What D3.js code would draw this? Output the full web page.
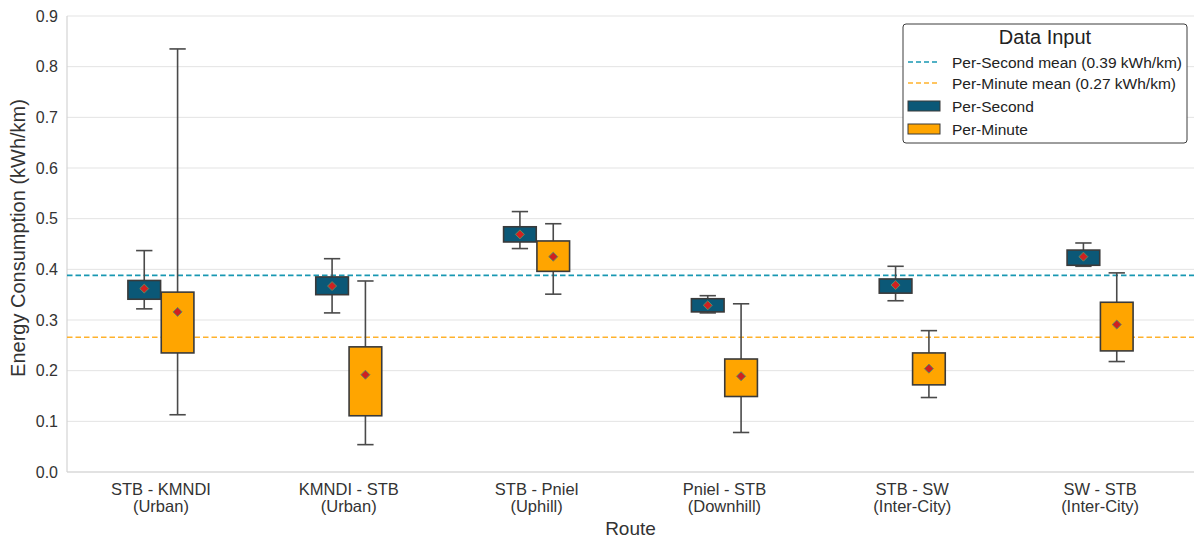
<!DOCTYPE html>
<html>
<head>
<meta charset="utf-8">
<script src="https://cdn.jsdelivr.net/npm/d3@7"></script>
<style>
  html, body { margin: 0; padding: 0; background: #fff; }
  svg { display: block; font-family: "Liberation Sans", Arial, sans-serif; }
</style>
</head>
<body>
<svg id="chart" width="1194" height="539"></svg>
<script>
// Routes (two-line tick labels) and data-input series
const routeNames = ["STB - KMNDI", "KMNDI - STB", "STB - Pniel", "Pniel - STB", "STB - SW", "SW - STB"];
const routeTypes = ["(Urban)", "(Urban)", "(Uphill)", "(Downhill)", "(Inter-City)", "(Inter-City)"];
const seriesNames = ["Per-Second", "Per-Minute"];
const seriesColors = ["#0b5877", "#ffa500"];
const meanLineColors = ["#1898b2", "#ffb22c"];

// Box statistics per route, kWh/km: [lower whisker, Q1, Q3, upper whisker]
const perSecondBox = [
  [0.322, 0.341, 0.378, 0.437],
  [0.314, 0.350, 0.385, 0.421],
  [0.441, 0.454, 0.484, 0.514],
  [0.314, 0.316, 0.342, 0.348],
  [0.338, 0.353, 0.381, 0.406],
  [0.406, 0.408, 0.438, 0.452]
];
const perMinuteBox = [
  [0.113, 0.235, 0.355, 0.835],
  [0.054, 0.111, 0.247, 0.377],
  [0.351, 0.396, 0.456, 0.490],
  [0.078, 0.149, 0.223, 0.332],
  [0.147, 0.172, 0.235, 0.279],
  [0.218, 0.239, 0.335, 0.393]
];
// Route means (diamond markers)
const perSecondMean = [0.362, 0.367, 0.469, 0.329, 0.369, 0.425];
const perMinuteMean = [0.316, 0.192, 0.425, 0.189, 0.204, 0.291];
// Overall means (dashed reference lines)
const overallMeans = [0.388, 0.266];

const yTicks = [0.0, 0.1, 0.2, 0.3, 0.4, 0.5, 0.6, 0.7, 0.8, 0.9];

const W = 1194, H = 539;
const plot = { left: 67, right: 1194, top: 16, bottom: 472 };
const svg = d3.select("#chart");

const x = d3.scaleBand().domain(d3.range(routeNames.length)).range([plot.left, plot.right]).paddingInner(0).paddingOuter(0);
const hue = d3.scaleBand().domain(seriesNames).range([-33, 33]).paddingInner(0.02);
const y = d3.scaleLinear().domain([0, 0.9]).range([plot.bottom, plot.top]);

// grid
svg.append("g").selectAll("line").data(yTicks).join("line")
  .attr("x1", plot.left).attr("x2", plot.right)
  .attr("y1", d => y(d)).attr("y2", d => y(d))
  .attr("stroke", "#e3e3e3").attr("stroke-width", 1);

// spines
svg.append("line").attr("x1", plot.left).attr("x2", plot.left).attr("y1", plot.top).attr("y2", plot.bottom)
  .attr("stroke", "#d4d4d4").attr("stroke-width", 1.2);
svg.append("line").attr("x1", plot.left).attr("x2", plot.right).attr("y1", plot.bottom).attr("y2", plot.bottom)
  .attr("stroke", "#d4d4d4").attr("stroke-width", 1.2);

// y axis
const yAxis = svg.append("g").attr("transform", `translate(${plot.left},0)`)
  .call(d3.axisLeft(y).tickValues(yTicks).tickFormat(d3.format(".1f")).tickSize(0).tickPadding(9));
yAxis.select(".domain").remove();
yAxis.selectAll("text").attr("font-size", 16).attr("fill", "#333").style("font-family", "Liberation Sans, Arial, sans-serif");

// x axis (two-line labels: route name, then route type)
const xAxis = svg.append("g").attr("transform", `translate(0,${plot.bottom})`)
  .call(d3.axisBottom(x).tickFormat("").tickSize(0));
xAxis.select(".domain").remove();
xAxis.selectAll(".tick").each(function(d) {
  const g = d3.select(this);
  g.append("text").attr("fill", "#333").attr("font-size", 16.5).attr("text-anchor", "middle")
    .attr("x", 0).attr("y", 22.5).text(routeNames[d]);
  g.append("text").attr("fill", "#333").attr("font-size", 16.5).attr("text-anchor", "middle")
    .attr("x", 0).attr("y", 39.5).text(routeTypes[d]);
});

// axis titles
svg.append("text").attr("x", (plot.left + plot.right) / 2).attr("y", 535)
  .attr("text-anchor", "middle").attr("font-size", 19).attr("fill", "#333").text("Route");
svg.append("text").attr("transform", `translate(25,${(plot.top + plot.bottom) / 2 - 6}) rotate(-90)`)
  .attr("text-anchor", "middle").attr("font-size", 20).attr("fill", "#333").text("Energy Consumption (kWh/km)");

// overall mean dashed lines (behind boxes)
svg.append("g").selectAll("line").data(overallMeans).join("line")
  .attr("x1", plot.left).attr("x2", plot.right)
  .attr("y1", d => y(d)).attr("y2", d => y(d))
  .attr("stroke", (d, i) => meanLineColors[i]).attr("stroke-width", 1.6)
  .attr("stroke-dasharray", "5.5,3");

// boxes
const boxData = [];
routeNames.forEach((r, i) => {
  [perSecondBox, perMinuteBox].forEach((arr, s) => {
    const st = arr[i];
    boxData.push({ route: i, series: s, lo: st[0], q1: st[1], q3: st[2], hi: st[3],
      mean: (s === 0 ? perSecondMean : perMinuteMean)[i] });
  });
});

const bw = hue.bandwidth();
const boxes = svg.append("g").selectAll("g").data(boxData).join("g")
  .attr("transform", d => `translate(${x(d.route) + x.bandwidth() / 2 + hue(seriesNames[d.series]) + bw / 2},0)`);

const whiskerColor = "#4a4a4a";
boxes.append("line").attr("x1", 0).attr("x2", 0).attr("y1", d => y(d.hi)).attr("y2", d => y(d.q3))
  .attr("stroke", whiskerColor).attr("stroke-width", 1.6);
boxes.append("line").attr("x1", 0).attr("x2", 0).attr("y1", d => y(d.q1)).attr("y2", d => y(d.lo))
  .attr("stroke", whiskerColor).attr("stroke-width", 1.6);
boxes.append("line").attr("x1", -bw / 4).attr("x2", bw / 4).attr("y1", d => y(d.hi)).attr("y2", d => y(d.hi))
  .attr("stroke", whiskerColor).attr("stroke-width", 1.6);
boxes.append("line").attr("x1", -bw / 4).attr("x2", bw / 4).attr("y1", d => y(d.lo)).attr("y2", d => y(d.lo))
  .attr("stroke", whiskerColor).attr("stroke-width", 1.6);
boxes.append("rect").attr("x", -bw / 2).attr("width", bw)
  .attr("y", d => y(d.q3)).attr("height", d => y(d.q1) - y(d.q3))
  .attr("fill", d => seriesColors[d.series]).attr("stroke", "#3a3a3a").attr("stroke-width", 1.6);

// mean diamonds
const diamond = d3.symbol().type(d3.symbolDiamond2).size(52);
boxes.append("path").attr("d", diamond)
  .attr("transform", d => `translate(0,${y(d.mean)})`)
  .attr("fill", "#cf2121").attr("stroke", "#5e8a63").attr("stroke-width", 1);

// legend
const lg = svg.append("g").attr("transform", "translate(903,24)");
lg.append("rect").attr("x", 0).attr("y", 0).attr("width", 284).attr("height", 119).attr("rx", 3)
  .attr("fill", "#fff").attr("stroke", "#3c3c3c").attr("stroke-width", 1);
lg.append("text").attr("x", 142).attr("y", 20).attr("text-anchor", "middle").attr("font-size", 20).attr("fill", "#222").text("Data Input");
const fmt = d3.format(".2f");
const legendItems = [
  { kind: "line", color: meanLineColors[0], label: `${seriesNames[0]} mean (${fmt(overallMeans[0])} kWh/km)`, cy: 38 },
  { kind: "line", color: meanLineColors[1], label: `${seriesNames[1]} mean (${fmt(overallMeans[1])} kWh/km)`, cy: 59 },
  { kind: "patch", color: seriesColors[0], label: seriesNames[0], cy: 82 },
  { kind: "patch", color: seriesColors[1], label: seriesNames[1], cy: 105 }
];
legendItems.forEach(it => {
  if (it.kind === "line") {
    lg.append("line").attr("x1", 5).attr("x2", 35).attr("y1", it.cy).attr("y2", it.cy)
      .attr("stroke", it.color).attr("stroke-width", 1.6).attr("stroke-dasharray", "5,3");
  } else {
    lg.append("rect").attr("x", 5).attr("y", it.cy - 5).attr("width", 32).attr("height", 10)
      .attr("fill", it.color).attr("stroke", "#3a3a3a").attr("stroke-width", 1);
  }
  lg.append("text").attr("x", 49).attr("y", it.cy + 5.5).attr("font-size", 15.5).attr("fill", "#222").text(it.label);
});
</script>
</body>
</html>
